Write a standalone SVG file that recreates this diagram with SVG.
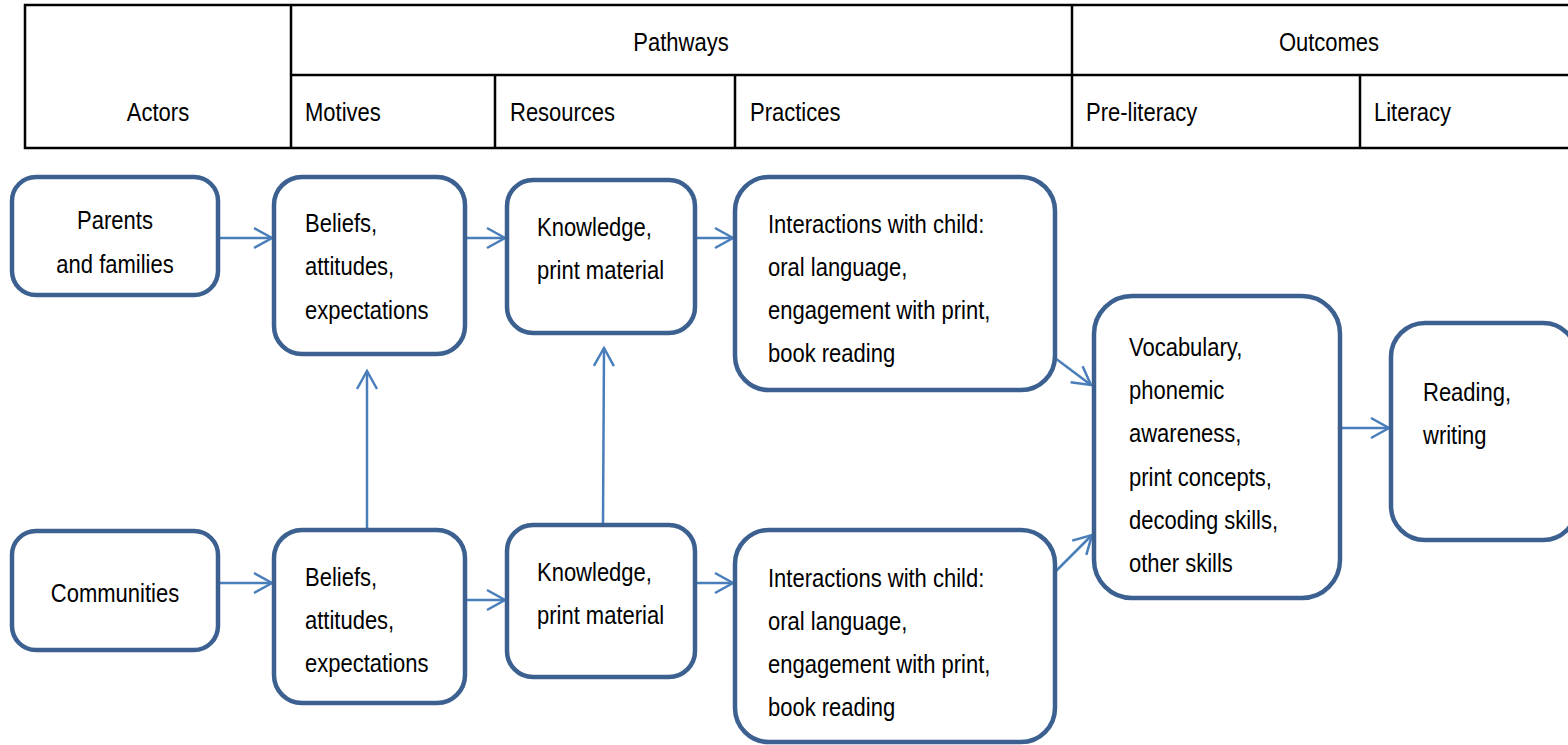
<svg xmlns="http://www.w3.org/2000/svg" width="1568" height="745" viewBox="0 0 1568 745">
<style>
.t{font-family:"Liberation Sans",Arial,sans-serif;font-size:25px;fill:#000}
.c{text-anchor:middle}
.grid{stroke:#000;stroke-width:2.5;fill:none}
.box{fill:#fff;stroke:#3C6191;stroke-width:4.5}
.con{stroke:#4A7EBB;stroke-width:2.5;fill:none;marker-end:url(#ah)}
</style>
<defs>
<marker id="ah" markerUnits="userSpaceOnUse" markerWidth="24" markerHeight="24" viewBox="-20 -12 24 24" refX="0" refY="0" orient="auto" overflow="visible">
<path d="M-18,-10 L0,0 L-18,10" fill="none" stroke="#4A7EBB" stroke-width="2.5"/>
</marker>
</defs>
<rect width="1568" height="745" fill="#fff"/>
<g id="header">
<path class="grid" d="M1570,5 H25 V148 H1570 M291,5 V148 M291,75 H1570 M495,75 V148 M735,75 V148 M1072,5 V148 M1360,75 V148"/>
<text class="t c" transform="matrix(0.88 0 0 1 681 51)">Pathways</text>
<text class="t c" transform="matrix(0.88 0 0 1 1329 51)">Outcomes</text>
<text class="t c" transform="matrix(0.88 0 0 1 158 121)">Actors</text>
<text class="t" transform="matrix(0.88 0 0 1 305 121)">Motives</text>
<text class="t" transform="matrix(0.88 0 0 1 510 121)">Resources</text>
<text class="t" transform="matrix(0.88 0 0 1 750 121)">Practices</text>
<text class="t" transform="matrix(0.88 0 0 1 1086 121)">Pre-literacy</text>
<text class="t" transform="matrix(0.88 0 0 1 1374 121)">Literacy</text>
</g>
<g id="connectors">
<path class="con" d="M220,238 H272"/>
<path class="con" d="M466,238 H505"/>
<path class="con" d="M696,238 H733"/>
<path class="con" d="M1055,358 L1091,385"/>
<path class="con" d="M1055,572 L1092,535"/>
<path class="con" d="M1341,428 H1389"/>
<path class="con" d="M220,583 H272"/>
<path class="con" d="M466,600 H505"/>
<path class="con" d="M696,583 H733"/>
<path class="con" d="M367,528 V371"/>
<path class="con" d="M603,524 L604,348"/>
</g>
<g id="parents">
<rect class="box" x="12" y="177" width="206" height="118" rx="24"/>
<text class="t c" transform="matrix(0.88 0 0 1 115 229)"><tspan x="0">Parents</tspan><tspan x="0" dy="44">and families</tspan></text>
</g>
<g id="beliefs-top">
<rect class="box" x="274" y="177" width="191" height="177" rx="28"/>
<text class="t" transform="matrix(0.88 0 0 1 305 232)"><tspan x="0">Beliefs,</tspan><tspan x="0" dy="43.5">attitudes,</tspan><tspan x="0" dy="43.5">expectations</tspan></text>
</g>
<g id="knowledge-top">
<rect class="box" x="507" y="180" width="188" height="153" rx="26"/>
<text class="t" transform="matrix(0.88 0 0 1 537 236)"><tspan x="0">Knowledge,</tspan><tspan x="0" dy="43.5">print material</tspan></text>
</g>
<g id="interactions-top">
<rect class="box" x="735" y="177" width="320" height="213" rx="34"/>
<text class="t" transform="matrix(0.88 0 0 1 768 233)"><tspan x="0">Interactions with child:</tspan><tspan x="0" dy="43">oral language,</tspan><tspan x="0" dy="43">engagement with print,</tspan><tspan x="0" dy="43">book reading</tspan></text>
</g>
<g id="vocabulary">
<rect class="box" x="1094" y="296" width="246" height="302" rx="38"/>
<text class="t" transform="matrix(0.88 0 0 1 1129 356)"><tspan x="0">Vocabulary,</tspan><tspan x="0" dy="43.2">phonemic</tspan><tspan x="0" dy="43.2">awareness,</tspan><tspan x="0" dy="43.2">print concepts,</tspan><tspan x="0" dy="43.2">decoding skills,</tspan><tspan x="0" dy="43.2">other skills</tspan></text>
</g>
<g id="reading">
<rect class="box" x="1391" y="323" width="186" height="217" rx="34"/>
<text class="t" transform="matrix(0.88 0 0 1 1423 401)"><tspan x="0">Reading,</tspan><tspan x="0" dy="43.5">writing</tspan></text>
</g>
<g id="communities">
<rect class="box" x="12" y="531" width="206" height="119" rx="24"/>
<text class="t c" transform="matrix(0.88 0 0 1 115 602)">Communities</text>
</g>
<g id="beliefs-bottom">
<rect class="box" x="274" y="530" width="191" height="173" rx="28"/>
<text class="t" transform="matrix(0.88 0 0 1 305 586)"><tspan x="0">Beliefs,</tspan><tspan x="0" dy="43">attitudes,</tspan><tspan x="0" dy="43">expectations</tspan></text>
</g>
<g id="knowledge-bottom">
<rect class="box" x="507" y="525" width="188" height="152" rx="26"/>
<text class="t" transform="matrix(0.88 0 0 1 537 581)"><tspan x="0">Knowledge,</tspan><tspan x="0" dy="43.5">print material</tspan></text>
</g>
<g id="interactions-bottom">
<rect class="box" x="735" y="530" width="320" height="212" rx="34"/>
<text class="t" transform="matrix(0.88 0 0 1 768 587)"><tspan x="0">Interactions with child:</tspan><tspan x="0" dy="43">oral language,</tspan><tspan x="0" dy="43">engagement with print,</tspan><tspan x="0" dy="43">book reading</tspan></text>
</g>
</svg>
